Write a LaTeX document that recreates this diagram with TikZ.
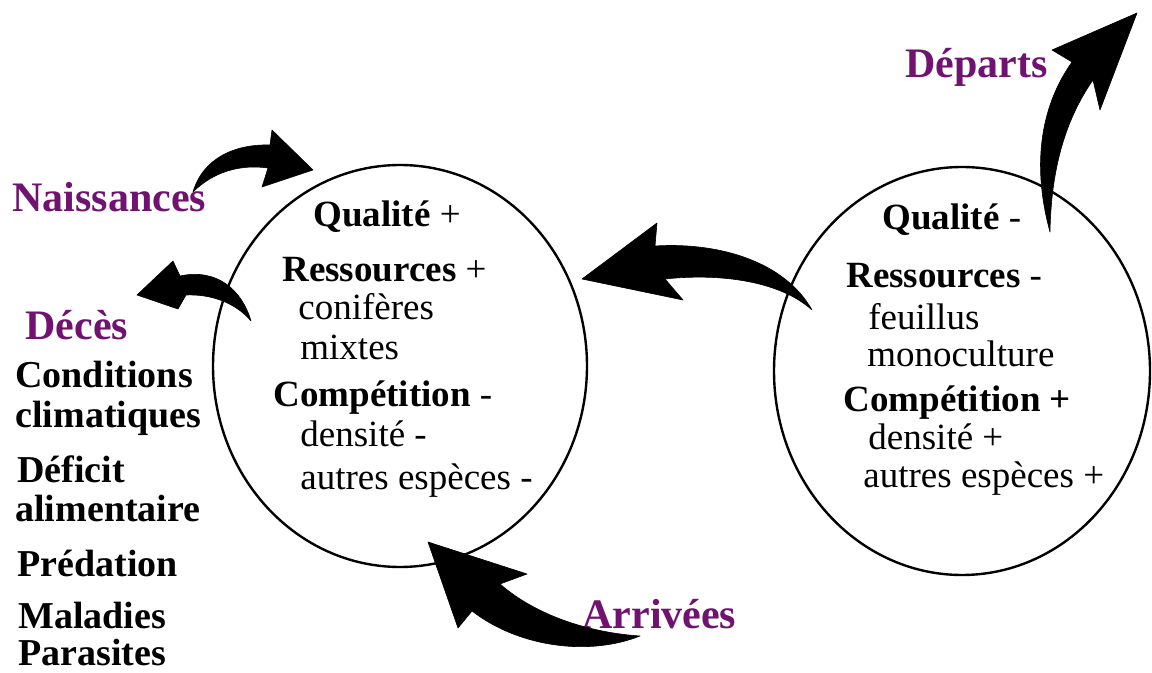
\documentclass[tikz,border=0pt]{standalone}
\usepackage{fontspec}
\setmainfont{Liberation Serif}
\usetikzlibrary{shapes.geometric}
\definecolor{purp}{RGB}{112,18,112}
\begin{document}
\begin{tikzpicture}[x=0.5pt,y=-0.5pt,
  txt/.style={anchor=base west,inner sep=0pt,font=\fontsize{18.5pt}{22pt}\selectfont},
  btxt/.style={txt,font=\fontsize{18.5pt}{22pt}\selectfont\bfseries},
  ltxt/.style={anchor=base west,inner sep=0pt,font=\fontsize{19pt}{22pt}\selectfont\bfseries},
  ptxt/.style={anchor=base west,inner sep=0pt,text=purp,font=\fontsize{21pt}{25pt}\selectfont\bfseries},
  circ/.style={draw,line width=1.2pt,ellipse,inner sep=0pt},
  blk/.style={fill=black,draw=black,line width=0.3pt,line join=round}]
\useasboundingbox (0,0) rectangle (1152,673);
\fill[white] (0,0) rectangle (1152,673);
% ellipses
\node[circ,minimum width=187pt,minimum height=201pt] (L) at (400,366) {};
\node[circ,minimum width=188pt,minimum height=204pt] (R) at (962,371) {};
% left circle text
\node[btxt] (lq) at (313,227) {Qualité \mdseries+};
\node[btxt] (lr) at (282,282) {Ressources \mdseries+};
\node[txt] (lc) at (298,320) {conifères};
\node[txt] (lm) at (300,360) {mixtes};
\node[btxt] (lp) at (273,407) {Compétition \mdseries-};
\node[txt] (ld) at (300,447) {densité -};
\node[txt] (la) at (300,490) {autres espèces -};
% right circle text
\node[btxt] (rq) at (882,230) {Qualité \mdseries-};
\node[btxt] (rr) at (846,288) {Ressources \mdseries-};
\node[txt] (rf) at (868,330) {feuillus};
\node[txt] (rm) at (867,367) {monoculture};
\node[btxt] (rp) at (843,412) {Compétition +};
\node[txt] (rd) at (868,450) {densité +};
\node[txt] (ra) at (863,488) {autres espèces +};
% purple labels
\node[ptxt] (nai) at (12,212) {Naissances};
\node[ptxt] (dec) at (25,340) {Décès};
\node[ptxt] (arr) at (582,628) {Arrivées};
\node[ptxt] (dep) at (905,78) {Départs};
% list
\node[ltxt] (l1) at (15,388) {Conditions};
\node[ltxt] (l2) at (15,428) {climatiques};
\node[ltxt] (l3) at (17,483) {Déficit};
\node[ltxt] (l4) at (15,522) {alimentaire};
\node[ltxt] (l5) at (17,577) {Prédation};
\node[ltxt] (l6) at (18,628) {Maladies};
\node[ltxt] (l7) at (18,665) {Parasites};
% Naissances arrow
\path[blk] (193,192) .. controls (203,158) and (235,144) .. (270,145)
  -- (272,130) -- (313,170) -- (262,187) -- (268,168)
  .. controls (240,164) and (213,172) .. (193,192) -- cycle;
% Deces arrow
\path[blk] (137,295) -- (173,261) -- (180,276)
  .. controls (217,268) and (242,290) .. (251,321)
  .. controls (235,302) and (210,294) .. (186,295)
  -- (178,309) -- cycle;
% middle arrow
\path[blk] (582,279) -- (657,223) -- (655,246)
  .. controls (720,242) and (785,262) .. (812,310)
  .. controls (780,281) and (720,273) .. (665,279)
  -- (683,300) -- cycle;
% Arrivees arrow
\path[blk] (428,542) -- (527,574) -- (500,584)
  .. controls (532,612) and (582,632) .. (640,636)
  .. controls (590,656) and (520,648) .. (472,611)
  -- (458,628) -- cycle;
% Departs arrow
\path[blk] (1137,13) -- (1100,110) -- (1093,80)
  .. controls (1065,120) and (1051,170) .. (1050,232)
  .. controls (1033,170) and (1038,110) .. (1072,62)
  -- (1052,50) -- cycle;
\end{tikzpicture}
\end{document}
